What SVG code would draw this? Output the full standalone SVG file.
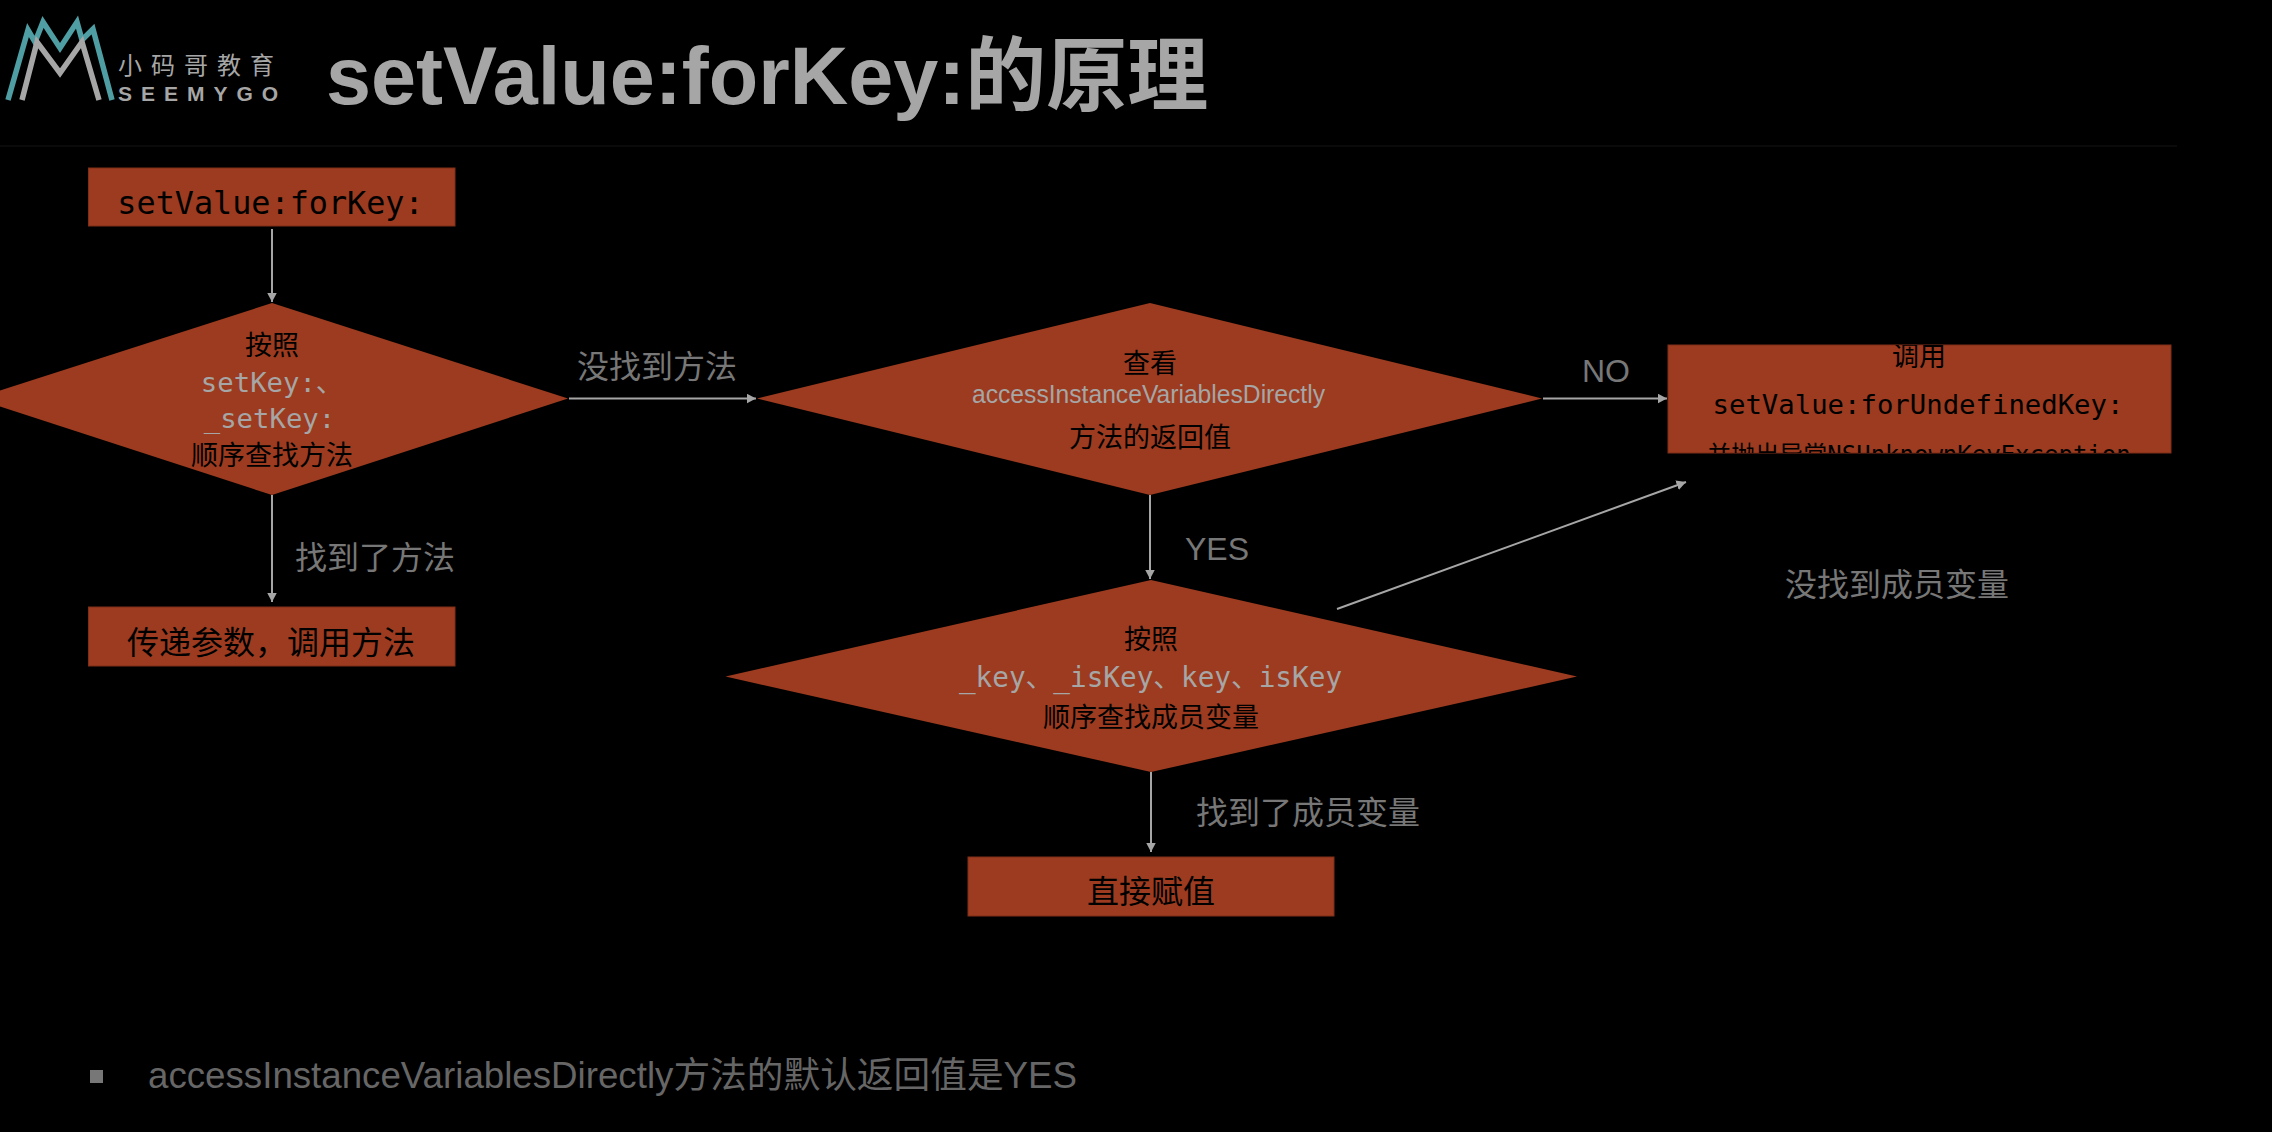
<svg xmlns="http://www.w3.org/2000/svg" width="2272" height="1132" viewBox="0 0 2272 1132">
<style>
.n{fill:#9c3b1f;stroke:#7f2f18;stroke-width:1}
.d{fill:#9c3b1f}
.k{fill:#000;font-family:"Noto Sans CJK SC",sans-serif;font-size:27px;text-anchor:middle}
.m{font-family:"DejaVu Sans Mono","Noto Sans CJK SC",monospace;font-size:27.300px;text-anchor:middle}
.g{fill:#a6a6a6}
.b{fill:#000}
.l{fill:#777;font-family:"Noto Sans CJK SC",sans-serif;font-size:32px}
.e{fill:#777;font-family:"Liberation Sans",sans-serif;font-size:32px}
.c{stroke:#a6a6a6;stroke-width:2;fill:none;marker-end:url(#a)}
</style>
<defs>
<marker id="a" markerUnits="userSpaceOnUse" markerWidth="10" markerHeight="10" refX="9.500" refY="5" orient="auto"><path d="M0 0L9.500 5L0 10Z" fill="#a6a6a6"/></marker>
<clipPath id="r3"><rect x="1668" y="345" width="503" height="108"/></clipPath>
</defs>
<rect width="2272" height="1132" fill="#000"/>
<rect id="rule" x="0" y="145" width="2177" height="2" fill="#0a0a0a"/>
<g id="logo">
<path d="M8 100L28 30L35 42L43 22L60 48L77 22L82 40L93 29L112 100" fill="none" stroke="#4f9ea3" stroke-width="5.500"/>
<path d="M22 100L37 42L60 73L82 42L99 100" fill="none" stroke="#a6a6a6" stroke-width="5.500"/>
<text x="118" y="74" fill="#a6a6a6" font-family="Noto Sans CJK SC,sans-serif" font-size="24" letter-spacing="9">小码哥教育</text>
<text x="118" y="101" fill="#a6a6a6" font-family="Liberation Sans,sans-serif" font-weight="700" font-size="21" letter-spacing="9">SEEMYGO</text>
</g>
<text id="title" x="326" y="104" fill="#a6a6a6" font-family="Liberation Sans,Noto Sans CJK SC,sans-serif" font-weight="700" font-size="81">setValue:forKey:的原理</text>
<g id="connectors">
<path class="c" d="M272 229V302"/>
<path class="c" d="M272 495V602"/>
<path class="c" d="M569 398.500H756"/>
<path class="c" d="M1543 398.500H1667"/>
<path class="c" d="M1150 495V579"/>
<path class="c" d="M1337 609L1686 482"/>
<path class="c" d="M1151 772V852"/>
</g>
<g id="n1"><rect class="n" x="88.500" y="168" width="366.500" height="58"/><text class="m b" x="270.500" y="214" style="font-size:31.800px">setValue:forKey:</text></g>
<g id="n2"><path class="d" d="M-25 398.500L272 303L568 398.500L272 495Z"/>
<text class="k" x="272" y="355">按照</text><text class="m g" x="272" y="392">setKey:、</text><text class="m g" x="269.500" y="428">_setKey:</text><text class="k" x="272" y="465">顺序查找方法</text></g>
<g id="n3"><rect class="n" x="88.500" y="607" width="366.500" height="59"/><text class="k" x="271" y="654" style="font-size:32px">传递参数，调用方法</text></g>
<g id="n4"><path class="d" d="M757 398.500L1150 303L1542 398.500L1150 495Z"/>
<text class="k" x="1150" y="373">查看</text><text class="g" x="972" y="403" font-family="Liberation Sans,sans-serif" font-size="26" textLength="353" lengthAdjust="spacingAndGlyphs">accessInstanceVariablesDirectly</text><text class="k" x="1150" y="447">方法的返回值</text></g>
<g id="n5"><rect class="n" x="1668" y="345" width="503" height="108"/>
<g clip-path="url(#r3)"><text class="k" x="1919" y="366">调用</text><text class="m b" x="1918" y="414">setValue:forUndefinedKey:</text><text class="m b" x="1919" y="463" style="font-size:24px">并抛出异常NSUnknownKeyException</text></g></g>
<g id="n6"><path class="d" d="M725.500 676.500L1151 580L1577 676.500L1151 772Z"/>
<text class="k" x="1151" y="649">按照</text><text class="m g" x="1150.500" y="687" style="font-size:27.700px">_key、_isKey、key、isKey</text><text class="k" x="1151" y="727">顺序查找成员变量</text></g>
<g id="n7"><rect class="n" x="968" y="857" width="366" height="59"/><text class="k" x="1151" y="903" style="font-size:32px">直接赋值</text></g>
<g id="labels">
<text class="l" x="577" y="378">没找到方法</text>
<text class="l" x="295" y="569">找到了方法</text>
<text class="e" x="1582" y="382">NO</text>
<text class="e" x="1185" y="560">YES</text>
<text class="l" x="1785" y="596">没找到成员变量</text>
<text class="l" x="1196" y="824">找到了成员变量</text>
</g>
<g id="note"><rect x="90" y="1070" width="13" height="13" fill="#777"/><text x="148" y="1088" fill="#666" font-family="Liberation Sans,Noto Sans CJK SC,sans-serif" font-size="36.700">accessInstanceVariablesDirectly方法的默认返回值是YES</text></g>
</svg>
